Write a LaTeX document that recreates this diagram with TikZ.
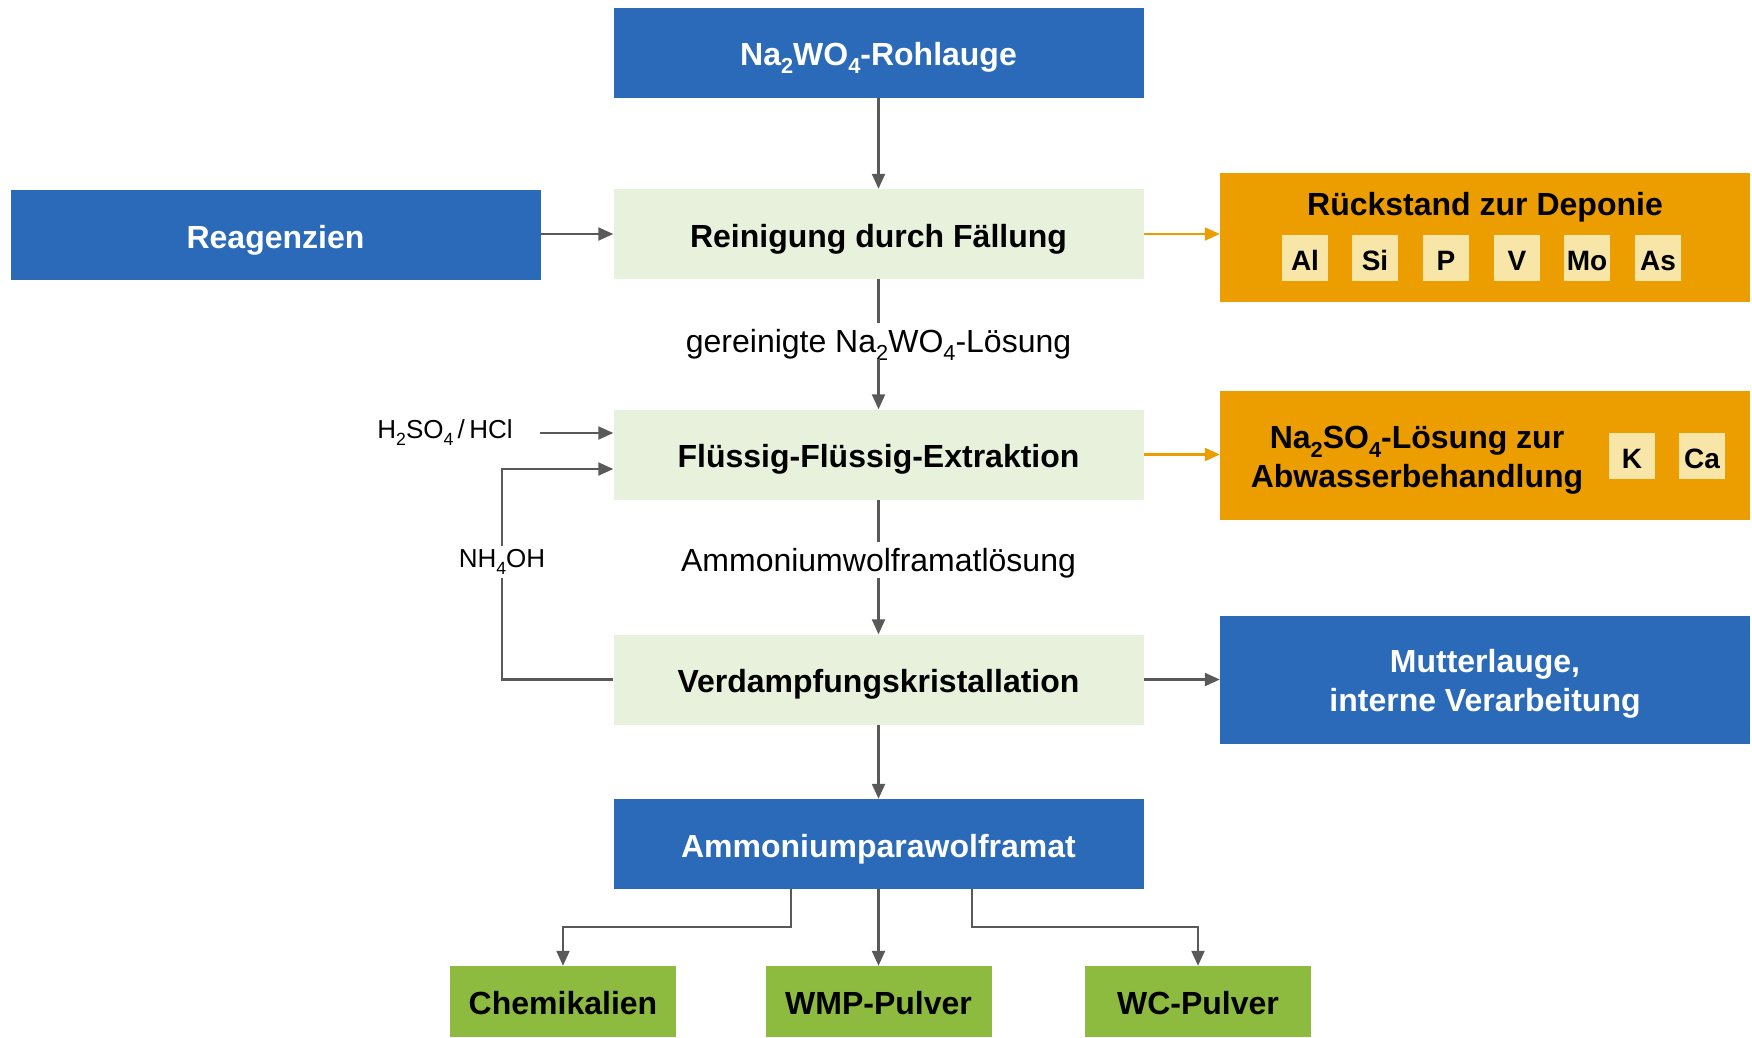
\documentclass[tikz,border=0pt]{standalone}
\usepackage{fontspec}
\setmainfont{Liberation Sans}
\usetikzlibrary{arrows.meta}
\definecolor{cblue}{RGB}{42,106,184}
\definecolor{cpale}{RGB}{232,241,219}
\definecolor{corange}{RGB}{236,158,0}
\definecolor{cyel}{RGB}{247,230,168}
\definecolor{cgreen}{RGB}{140,187,64}
\definecolor{cgray}{RGB}{89,89,89}
\newcommand\low[1]{\raisebox{-0.5ex}{\scalebox{0.68}{#1}}}
\begin{document}
\begin{tikzpicture}[x=1pt,y=-1pt,
  boxbase/.style={minimum width=530pt, minimum height=90pt, inner sep=0pt, anchor=center,
    font=\bfseries\fontsize{32}{38}\selectfont, align=center},
  box/.style={boxbase, text height=26pt, text depth=0pt},
  bluebox/.style={box, fill=cblue, text=white},
  procbox/.style={box, fill=cpale, text=black},
  orbox/.style={boxbase, fill=corange, minimum height=129pt},
  greenbox/.style={box, fill=cgreen, minimum width=226pt, minimum height=71pt},
  elbox/.style={fill=cyel, minimum width=46pt, minimum height=46pt, inner sep=0pt,
    text height=24pt, text depth=0pt, font=\bfseries\fontsize{28}{32}\selectfont},
  btxt/.style={font=\bfseries\fontsize{32}{38}\selectfont, align=center, inner sep=0pt},
  lbl/.style={fill=white, inner sep=3pt, text height=26pt, text depth=3pt,
    font=\fontsize{32}{38}\selectfont},
  slbl/.style={fill=white, inner sep=3pt, font=\fontsize{26}{30}\selectfont},
  arr/.style={draw=cgray, line width=2.2pt, -{Triangle[length=15pt,width=13pt]}},
  ln/.style={draw=cgray, line width=2.2pt},
  oarr/.style={draw=corange, line width=2.2pt, -{Triangle[length=15pt,width=13pt]}},
]
\useasboundingbox (0,0) rectangle (1752,1037);

\node[bluebox] (raw) at (878.5,52.5) {Na\low{2}WO\low{4}-Rohlauge};
\node[bluebox] (reag) at (275.5,235) {Reagenzien};
\node[procbox] (rein) at (878.5,234) {Reinigung durch Fällung};

\node[orbox] (rueck) at (1485,237.5) {};
\node[btxt] (ruecktxt) at (1485,207) {Rückstand zur Deponie};
\node[elbox] (al) at (1305,258) {Al};
\node[elbox] (si) at (1375,258) {Si};
\node[elbox] (p) at (1446,258) {P};
\node[elbox] (v) at (1517,258) {V};
\node[elbox] (mo) at (1587,258) {Mo};
\node[elbox] (as) at (1658,258) {As};

\node[procbox] (fl) at (878.5,454.5) {Flüssig-Flüssig-Extraktion};
\node[orbox] (nas) at (1485,455.5) {};
\node[btxt, text depth=0pt] (nastxt) at (1417,457) {Na\low{2}SO\low{4}-Lösung zur\\[1pt]Abwasserbehandlung};
\node[elbox] (k) at (1632,456) {K};
\node[elbox] (ca) at (1702,456) {Ca};

\node[procbox] (verd) at (878.5,679.5) {Verdampfungskristallation};
\node[boxbase, fill=cblue, text=white, minimum height=128pt, text depth=0pt] (mut) at (1485,680) {Mutterlauge,\\[1pt]interne Verarbeitung};
\node[bluebox] (apt) at (878.5,844) {Ammoniumparawolframat};

\node[greenbox] (chem) at (563,1001.5) {Chemikalien};
\node[greenbox] (wmp) at (878.5,1001.5) {WMP-Pulver};
\node[greenbox] (wc) at (1198,1001.5) {WC-Pulver};

% labels
\node[lbl] (l1) at (878.5,341) {gereinigte Na\low{2}WO\low{4}-Lösung};
\node[lbl] (l2) at (878.5,560) {Ammoniumwolframatlösung};
\node[slbl] (h2) at (445,433) {H\low{2}SO\low{4}\,/\,HCl};
\node[slbl] (nh) at (502,562) {NH\low{4}OH};

% connectors
\draw[arr] (raw.south) -- (rein.north);
\draw[arr] (reag.east |- rein.west) -- (rein.west);
\draw[oarr] (rein.east) -- (rein.east -| rueck.west);
\draw[ln] (rein.south) -- (l1.north);
\draw[arr] (l1.south) -- (fl.north);
\draw[arr, shorten <=24pt] (h2.east) -- (h2.east -| fl.west);
\coordinate (nhtop) at (502,469);
\draw[ln] (verd.west) -| (nh.south);
\draw[arr] (nh.north) -- (nhtop) -- (nhtop -| fl.west);
\draw[oarr] (fl.east) -- (fl.east -| nas.west);
\draw[ln] (fl.south) -- (l2.north);
\draw[arr] (l2.south) -- (verd.north);
\draw[arr] (verd.east) -- (verd.east -| mut.west);
\draw[arr] (verd.south) -- (apt.north);
\coordinate (jl) at (791,927);
\coordinate (jr) at (972,927);
\draw[arr] (apt.south -| jl) -- (jl) -| (chem.north);
\draw[arr] (apt.south -| wmp.north) -- (wmp.north);
\draw[arr] (apt.south -| jr) -- (jr) -| (wc.north);
\end{tikzpicture}
\end{document}
